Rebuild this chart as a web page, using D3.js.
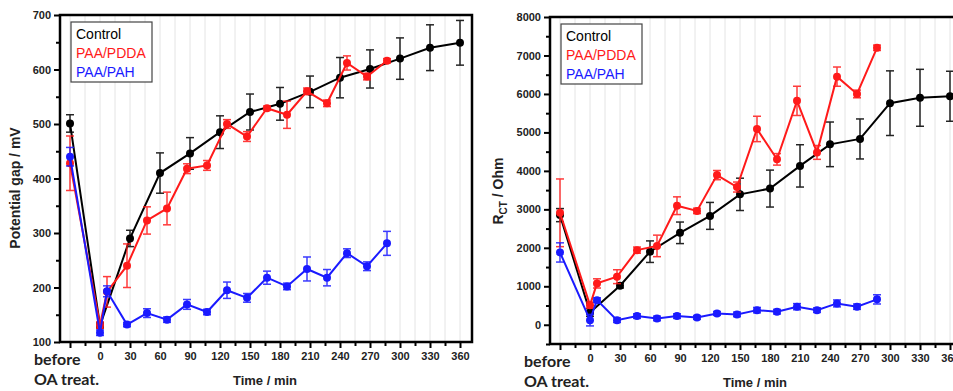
<!DOCTYPE html>
<html>
<head>
<meta charset="utf-8">
<script src="https://cdn.jsdelivr.net/npm/d3@7"></script>
<style>
  body { margin: 0; background: #fff; }
  svg { display: block; }
  .tick text { font-family: "Liberation Sans", Arial, sans-serif; font-weight: bold; font-size: 11px; fill: #222; }
</style>
</head>
<body>
<svg id="graphContainer" width="953" height="391"></svg>
<script>
// "before OA treat." is placed at t = -30
const controlTimes = [-30, 0, 30, 60, 90, 120, 150, 180, 210, 240, 270, 300, 330, 360];
const coatedTimes = [-30, 0, 7, 27, 47, 67, 87, 107, 127, 147, 167, 187, 207, 227, 247, 267, 287];
const seriesNames = ['Control', 'PAA/PDDA', 'PAA/PAH'];
const seriesColors = ['#000000', '#ff1a1a', '#1a1aff'];

// potential gap (mV)
const gapControl = [501, 130, 290, 410, 446, 485, 522, 537, 559, 585, 601, 620, 640, 649];
const gapControlErr = [16, 5, 15, 37, 29, 30, 33, 30, 29, 37, 35, 38, 42, 41];
const gapPdda = [428, 131, 192, 240, 323, 345, 418, 424, 500, 477, 529, 517, 560, 538, 612, 587, 616];
const gapPddaErr = [50, 6, 28, 40, 25, 30, 9, 9, 8, 9, 4, 25, 6, 6, 13, 6, 4];
const gapPah = [440, 117, 193, 132, 153, 141, 169, 155, 195, 181, 218, 202, 234, 218, 263, 239, 281];
const gapPahErr = [17, 5, 10, 4, 8, 5, 9, 5, 15, 8, 12, 6, 22, 15, 8, 8, 22];

// R_CT (Ohm)
const rctControl = [2850, 320, 1015, 1900, 2390, 2830, 3390, 3540, 4130, 4690, 4830, 5760, 5900, 5940];
const rctControlErr = [170, 100, 60, 280, 280, 350, 420, 480, 550, 580, 520, 840, 740, 650];
const rctPdda = [2910, 510, 1075, 1250, 1940, 2050, 3095, 2960, 3890, 3580, 5090, 4300, 5820, 4480, 6450, 6000, 7200];
const rctPddaErr = [880, 80, 120, 180, 80, 280, 230, 70, 120, 130, 330, 150, 380, 180, 250, 100, 70];
const rctPah = [1880, 120, 640, 120, 225, 165, 225, 190, 295, 270, 380, 340, 470, 380, 555, 470, 660];
const rctPahErr = [250, 150, 60, 60, 60, 60, 60, 50, 50, 60, 70, 60, 80, 60, 90, 70, 120];

const xTicks = [-30, 0, 30, 60, 90, 120, 150, 180, 210, 240, 270, 300, 330, 360];
const xMinorTicks = [-15, 15, 45, 75, 105, 135, 165, 195, 225, 255, 285, 315, 345];
const gapTicks = [100, 200, 300, 400, 500, 600, 700];
const gapMinor = [150, 250, 350, 450, 550, 650];
const rctTicks = [0, 1000, 2000, 3000, 4000, 5000, 6000, 7000, 8000];
const rctMinor = [-500, 500, 1500, 2500, 3500, 4500, 5500, 6500, 7500];

const svg = d3.select('#graphContainer');

const drawPanel = opts => {
  const x = d3.scaleLinear().domain([-40, 372]).range([opts.left, opts.left + 412]);
  const y = d3.scaleLinear().domain(opts.yDomain).range([opts.bottom, opts.top]);
  const g = svg.append('g');

  // vertical grid
  g.append('g').selectAll('line')
    .data(xTicks.concat(xMinorTicks))
    .enter().append('line')
    .attr('x1', d => x(d)).attr('x2', d => x(d))
    .attr('y1', opts.top).attr('y2', opts.bottom)
    .attr('stroke', '#e4e4e4').attr('stroke-width', 1);

  // x axis
  const xAxis = d3.axisBottom(x).tickValues(xTicks).tickSize(6).tickPadding(4)
    .tickFormat(d => d < 0 ? '' : d);
  g.append('g').attr('transform', `translate(0, ${opts.bottom})`).call(xAxis);
  g.append('g').attr('transform', `translate(0, ${opts.bottom})`)
    .call(d3.axisBottom(x).tickValues(xMinorTicks).tickSize(4).tickFormat(''));

  // y axis
  g.append('g').attr('transform', `translate(${opts.left}, 0)`)
    .call(d3.axisLeft(y).tickValues(opts.yTicks).tickSize(6).tickPadding(3).tickFormat(d3.format('d')));
  g.append('g').attr('transform', `translate(${opts.left}, 0)`)
    .call(d3.axisLeft(y).tickValues(opts.yMinor).tickSize(4).tickFormat(''));

  g.selectAll('.domain').remove();
  g.selectAll('.tick line').attr('stroke', '#000').attr('stroke-width', 2);

  // frame
  g.append('rect')
    .attr('x', opts.left).attr('y', opts.top)
    .attr('width', 412).attr('height', opts.bottom - opts.top)
    .attr('fill', 'none').attr('stroke', '#000').attr('stroke-width', 2.5);

  // series
  const line = d3.line().x(d => x(d.t)).y(d => y(d.v));
  opts.series.forEach((s, k) => {
    const pts = s.times.map((t, i) => ({ t: t, v: s.values[i], e: s.errs[i] }));
    const sg = g.append('g');
    sg.append('path').datum(pts)
      .attr('d', line).attr('fill', 'none')
      .attr('stroke', seriesColors[k]).attr('stroke-width', 2);
    const eb = sg.selectAll('.eb').data(pts).enter().append('g').attr('stroke', seriesColors[k]).attr('stroke-width', 1.5)
      .attr('opacity', 0.85);
    eb.append('line').attr('x1', d => x(d.t)).attr('x2', d => x(d.t))
      .attr('y1', d => y(d.v - d.e)).attr('y2', d => y(d.v + d.e));
    eb.append('line').attr('x1', d => x(d.t) - 4).attr('x2', d => x(d.t) + 4)
      .attr('y1', d => y(d.v - d.e)).attr('y2', d => y(d.v - d.e));
    eb.append('line').attr('x1', d => x(d.t) - 4).attr('x2', d => x(d.t) + 4)
      .attr('y1', d => y(d.v + d.e)).attr('y2', d => y(d.v + d.e));
    sg.selectAll('circle').data(pts).enter().append('circle')
      .attr('cx', d => x(d.t)).attr('cy', d => y(d.v)).attr('r', 4)
      .attr('fill', seriesColors[k]);
  });

  // legend
  const lg = g.append('g');
  lg.append('rect').attr('x', opts.left + 11).attr('y', opts.top + 7)
    .attr('width', 81).attr('height', 60)
    .attr('fill', '#fff').attr('stroke', '#444').attr('stroke-width', 1.2);
  seriesNames.forEach((n, k) => {
    lg.append('text').attr('x', opts.left + 16).attr('y', opts.top + 24 + k * 19)
      .attr('fill', seriesColors[k])
      .style('font-family', '"Liberation Sans", Arial, sans-serif').style('font-size', '14px')
      .text(n);
  });

  // "before OA treat."
  const bt = g.append('text')
    .style('font-family', 'Lato, "Open Sans", sans-serif').style('font-weight', 'bold').style('font-size', '16px')
    .attr('fill', '#222');
  bt.append('tspan').attr('x', opts.left - 26).attr('y', opts.bottom + 23).text('before');
  bt.append('tspan').attr('x', opts.left - 26).attr('y', opts.bottom + 43).text('OA treat.');

  // axis titles
  g.append('text')
    .attr('x', opts.left + 205).attr('y', opts.bottom + 43)
    .attr('text-anchor', 'middle')
    .style('font-family', '"Liberation Sans", Arial, sans-serif').style('font-weight', 'bold').style('font-size', '13px')
    .attr('fill', '#222')
    .text('Time / min');

  return g;
};

const left = drawPanel({
  left: 60, top: 15, bottom: 342,
  yDomain: [100, 700], yTicks: gapTicks, yMinor: gapMinor,
  series: [
    { times: controlTimes, values: gapControl, errs: gapControlErr },
    { times: coatedTimes, values: gapPdda, errs: gapPddaErr },
    { times: coatedTimes, values: gapPah, errs: gapPahErr }
  ]
});
left.append('text')
  .attr('transform', 'translate(20, 188) rotate(-90)')
  .attr('text-anchor', 'middle')
  .style('font-family', '"Liberation Sans", Arial, sans-serif').style('font-weight', 'bold').style('font-size', '14px')
  .attr('fill', '#222')
  .text('Potential gap / mV');

const right = drawPanel({
  left: 550, top: 17, bottom: 344,
  yDomain: [-500, 8000], yTicks: rctTicks, yMinor: rctMinor,
  series: [
    { times: controlTimes, values: rctControl, errs: rctControlErr },
    { times: coatedTimes, values: rctPdda, errs: rctPddaErr },
    { times: coatedTimes, values: rctPah, errs: rctPahErr }
  ]
});
const rl = right.append('text')
  .attr('transform', 'translate(503, 191) rotate(-90)')
  .attr('text-anchor', 'middle')
  .style('font-family', '"Liberation Sans", Arial, sans-serif').style('font-weight', 'bold').style('font-size', '14px')
  .attr('fill', '#222');
rl.append('tspan').text('R');
rl.append('tspan').attr('dy', 4).style('font-size', '10px').text('CT');
rl.append('tspan').attr('dy', -4).text(' / Ohm');
</script>
</body>
</html>
